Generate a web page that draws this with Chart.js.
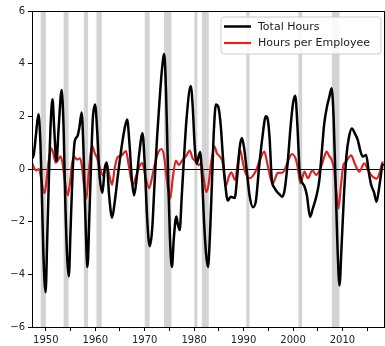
<!DOCTYPE html>
<html>
<head>
<meta charset="utf-8">
<script src="https://cdn.jsdelivr.net/npm/chart.js@4/dist/chart.umd.min.js"></script>
<style>
  html, body { margin: 0; padding: 0; background: #fff; }
  #wrap { width: 385px; height: 346px; position: relative; }
</style>
</head>
<body>
<div id="wrap"><canvas id="c" width="385" height="346"></canvas></div>
<script>
// Cyclical component of hours worked (percent deviation from trend)
const totalYears = [1947.3,1947.6,1948.0,1948.5,1948.9,1949.2,1949.5,1949.95,1950.3,1950.7,1951.0,1951.35,1951.7,1952.15,1952.6,1953.2,1953.6,1953.9,1954.3,1954.65,1955.0,1955.4,1955.85,1956.4,1956.8,1957.25,1957.6,1957.9,1958.2,1958.42,1958.8,1959.2,1959.5,1959.95,1960.4,1960.8,1961.45,1961.9,1962.3,1962.8,1963.4,1963.9,1964.6,1965.3,1965.9,1966.45,1966.9,1967.4,1967.85,1968.4,1968.9,1969.55,1970.0,1970.5,1971.0,1971.5,1972.0,1972.5,1973.0,1973.5,1973.95,1974.3,1974.7,1975.1,1975.5,1975.9,1976.4,1976.7,1977.07,1977.5,1978.0,1978.5,1979.3,1979.7,1980.1,1980.5,1981.2,1981.6,1982.0,1982.4,1982.8,1983.2,1983.6,1984.0,1984.4,1984.9,1985.4,1985.8,1986.3,1986.8,1987.4,1988.2,1988.7,1989.2,1989.65,1990.1,1990.6,1991.2,1991.9,1992.5,1993.1,1993.8,1994.5,1994.8,1995.25,1995.7,1996.2,1996.7,1997.2,1997.8,1998.3,1998.9,1999.5,2000.0,2000.45,2000.9,2001.3,2001.7,2002.3,2002.8,2003.45,2004.0,2004.7,2005.3,2005.8,2006.3,2006.9,2007.3,2007.8,2008.2,2008.6,2009.0,2009.4,2009.8,2010.3,2010.8,2011.3,2011.9,2012.5,2013.1,2013.6,2014.1,2014.8,2015.3,2015.8,2016.4,2016.9,2017.5,2018.1,2018.3];
const totalHours = [0.4,0.6,1.3,2.08,1.0,-1.0,-3.2,-4.68,-2.5,0.2,1.8,2.65,1.5,0.3,1.6,3.0,1.5,-1.0,-3.3,-4.08,-2.3,-0.2,1.05,1.25,1.6,2.15,0.8,-1.2,-3.0,-3.72,-1.8,0.5,1.9,2.45,1.4,-0.1,-0.9,0.0,0.25,-1.0,-1.85,-1.3,-0.2,0.8,1.5,1.88,1.0,-0.4,-1.0,-0.3,0.6,1.36,0.2,-1.9,-2.93,-2.3,-0.5,1.2,2.6,3.8,4.37,3.0,0.0,-2.6,-3.72,-2.6,-1.8,-2.1,-2.32,-1.0,0.6,2.0,3.15,2.4,0.9,0.2,0.65,-0.3,-2.0,-3.2,-3.72,-2.5,-0.5,1.5,2.45,2.35,1.6,0.5,-0.6,-1.2,-1.05,-1.1,-0.3,0.8,1.18,0.8,0.0,-1.0,-1.45,-1.2,0.0,1.2,2.0,1.95,1.2,-0.4,-0.7,-0.85,-0.95,-1.05,-0.8,0.2,1.6,2.5,2.78,1.6,0.0,-0.45,-0.65,-1.0,-1.82,-1.5,-1.05,-0.45,0.6,1.7,2.4,2.7,3.07,2.0,-0.5,-3.0,-4.42,-3.0,-1.0,0.5,1.2,1.54,1.35,1.1,0.7,0.47,0.53,-0.1,-0.6,-0.9,-1.24,-0.6,0.15,0.2];

const perEmpYears = [1947.3,1947.6,1948.1,1948.6,1949.0,1949.4,1949.75,1950.1,1950.5,1951.1,1951.5,1952.0,1952.5,1952.95,1953.4,1953.8,1954.45,1954.9,1955.3,1955.7,1956.3,1956.9,1957.3,1957.7,1958.2,1958.6,1959.0,1959.35,1959.9,1960.5,1961.0,1961.6,1962.25,1962.8,1963.4,1963.9,1964.5,1965.2,1966.2,1966.8,1967.6,1968.2,1968.7,1969.5,1970.2,1970.9,1971.5,1972.2,1972.8,1973.35,1973.9,1974.4,1975.15,1975.7,1976.3,1976.9,1977.5,1978.4,1979.1,1979.7,1980.4,1980.9,1981.4,1981.9,1982.45,1982.9,1983.4,1984.1,1984.6,1985.2,1985.7,1986.45,1987.0,1987.5,1988.3,1988.8,1989.3,1989.8,1990.2,1990.8,1991.3,1991.9,1992.55,1993.3,1994.2,1994.8,1995.6,1995.9,1996.4,1996.9,1997.6,1998.1,1998.8,1999.3,1999.8,2000.6,2001.0,2001.5,2002.3,2003.0,2003.9,2004.7,2005.7,2006.3,2006.8,2007.3,2007.8,2008.3,2008.8,2009.2,2009.7,2010.2,2010.6,2011.75,2012.5,2013.4,2014.4,2015.2,2015.8,2016.9,2017.6,2018.1,2018.3];
const hoursPerEmployee = [0.2,0.05,-0.05,0.0,-0.3,-0.75,-0.92,-0.5,0.2,0.78,0.6,0.24,0.35,0.48,0.2,-0.4,-1.0,-0.5,0.2,0.47,0.36,0.4,0.1,-0.6,-1.13,-0.3,0.5,0.88,0.6,0.35,0.0,-0.25,0.21,-0.2,-0.6,0.0,0.45,0.5,0.68,0.1,-0.62,-0.3,0.0,0.22,-0.35,-0.73,-0.3,0.3,0.65,0.76,0.5,-0.3,-1.13,-0.3,0.32,0.15,0.3,0.5,0.7,0.4,0.28,0.15,0.22,-0.3,-0.88,-0.6,0.2,0.85,0.6,0.47,0.3,-0.62,-0.3,-0.13,-0.42,0.2,0.72,0.3,-0.05,-0.3,-0.35,-0.25,-0.05,0.35,0.66,0.2,-0.45,-0.55,-0.35,-0.15,-0.15,-0.1,0.2,0.45,0.57,0.35,0.0,-0.55,-0.1,-0.35,-0.05,-0.23,0.1,0.45,0.66,0.5,0.35,0.0,-0.9,-1.5,-0.6,0.15,0.25,0.52,0.2,-0.1,0.21,-0.05,-0.23,-0.37,-0.1,0.25,0.25];

// Recession periods (start, end)
const recessionStart = [1948.95,1953.6,1957.7,1960.25,1970.0,1973.9,1980.05,1981.55,1990.55,2001.1,2007.85];
const recessionEnd   = [1950.0,1954.6,1958.55,1961.3,1971.0,1975.4,1980.65,1982.95,1991.2,2001.85,2009.4];

const xTicks = [1950,1955,1960,1965,1970,1975,1980,1985,1990,1995,2000,2005,2010,2015];
const yTicks = [-6,-4,-2,0,2,4,6];

const FONT = 'DejaVu Sans';

function toPoints(xs, ys) { return xs.map((x, i) => ({ x: x, y: ys[i] })); }

const backdrop = {
  id: 'backdrop',
  beforeDatasetsDraw(chart) {
    const { ctx, chartArea: a, scales: { x, y } } = chart;
    ctx.save();
    ctx.beginPath();
    ctx.rect(a.left, a.top, a.right - a.left, a.bottom - a.top);
    ctx.clip();
    ctx.fillStyle = '#d3d3d3';
    recessionStart.forEach((s, i) => {
      const x0 = x.getPixelForValue(s), x1 = x.getPixelForValue(recessionEnd[i]);
      ctx.fillRect(x0, a.top, x1 - x0, a.bottom - a.top);
    });
    const y0 = Math.round(y.getPixelForValue(0)) + 0.5;
    ctx.strokeStyle = '#000';
    ctx.lineWidth = 1;
    ctx.beginPath();
    ctx.moveTo(a.left, y0);
    ctx.lineTo(a.right, y0);
    ctx.stroke();
    ctx.restore();
  },
  afterDatasetsDraw(chart) {
    const { ctx, chartArea: a } = chart;
    ctx.save();
    ctx.strokeStyle = '#000';
    ctx.lineWidth = 1;
    ctx.strokeRect(Math.round(a.left) + 0.5, Math.round(a.top) + 0.5,
                   Math.round(a.right - a.left), Math.round(a.bottom - a.top));
    // legend box
    const bx = 221, by = 17, bw = 160, bh = 37, r = 3;
    ctx.fillStyle = 'rgba(255,255,255,0.85)';
    ctx.strokeStyle = '#cccccc';
    ctx.beginPath();
    ctx.moveTo(bx + r, by);
    ctx.lineTo(bx + bw - r, by);
    ctx.arcTo(bx + bw, by, bx + bw, by + r, r);
    ctx.lineTo(bx + bw, by + bh - r);
    ctx.arcTo(bx + bw, by + bh, bx + bw - r, by + bh, r);
    ctx.lineTo(bx + r, by + bh);
    ctx.arcTo(bx, by + bh, bx, by + bh - r, r);
    ctx.lineTo(bx, by + r);
    ctx.arcTo(bx, by, bx + r, by, r);
    ctx.closePath();
    ctx.fill();
    ctx.stroke();
    ctx.font = '11px "' + FONT + '"';
    ctx.textBaseline = 'middle';
    ctx.textAlign = 'left';
    chart.data.datasets.forEach((ds, i) => {
      const ly = by + 9.5 + i * 16.5;
      ctx.strokeStyle = ds.borderColor;
      ctx.lineWidth = ds.borderWidth;
      ctx.beginPath();
      ctx.moveTo(bx + 3, ly);
      ctx.lineTo(bx + 30, ly);
      ctx.stroke();
      ctx.fillStyle = '#222';
      ctx.fillText(ds.label, bx + 37, ly + 0.5);
    });
    ctx.restore();
  }
};

new Chart(document.getElementById('c'), {
  type: 'line',
  data: {
    datasets: [
      { label: 'Total Hours', data: toPoints(totalYears, totalHours),
        borderColor: '#000000', borderWidth: 2.5, pointRadius: 0,
        cubicInterpolationMode: 'monotone', fill: false },
      { label: 'Hours per Employee', data: toPoints(perEmpYears, hoursPerEmployee),
        borderColor: '#d62728', borderWidth: 2.2, pointRadius: 0,
        cubicInterpolationMode: 'monotone', fill: false }
    ]
  },
  options: {
    responsive: false,
    animation: false,
    devicePixelRatio: 1,
    layout: { padding: { top: 11, right: 1, left: 0, bottom: 0 } },
    plugins: { legend: { display: false }, tooltip: { enabled: false } },
    scales: {
      x: {
        type: 'linear', min: 1947.2, max: 2018.4,
        afterFit(s) { s.height = 19; },
        afterBuildTicks(s) { s.ticks = xTicks.map(v => ({ value: v })); },
        grid: { drawOnChartArea: false, drawTicks: true, tickLength: 4, color: '#000' },
        border: { display: true, color: '#000', width: 1 },
        ticks: {
          autoSkip: false, maxRotation: 0, padding: 3, color: '#222',
          font: { family: FONT, size: 10 },
          callback: v => (v % 10 === 0 ? String(v) : '')
        }
      },
      y: {
        type: 'linear', min: -6, max: 6,
        afterFit(s) { s.width = 32; },
        afterBuildTicks(s) { s.ticks = yTicks.map(v => ({ value: v })); },
        grid: { drawOnChartArea: false, drawTicks: true, tickLength: 4, color: '#000' },
        border: { display: true, color: '#000', width: 1 },
        ticks: {
          padding: 3, color: '#222',
          font: { family: FONT, size: 10 },
          callback: v => (v < 0 ? '\u2212' + Math.abs(v) : String(v))
        }
      }
    }
  },
  plugins: [backdrop]
});
</script>
</body>
</html>
